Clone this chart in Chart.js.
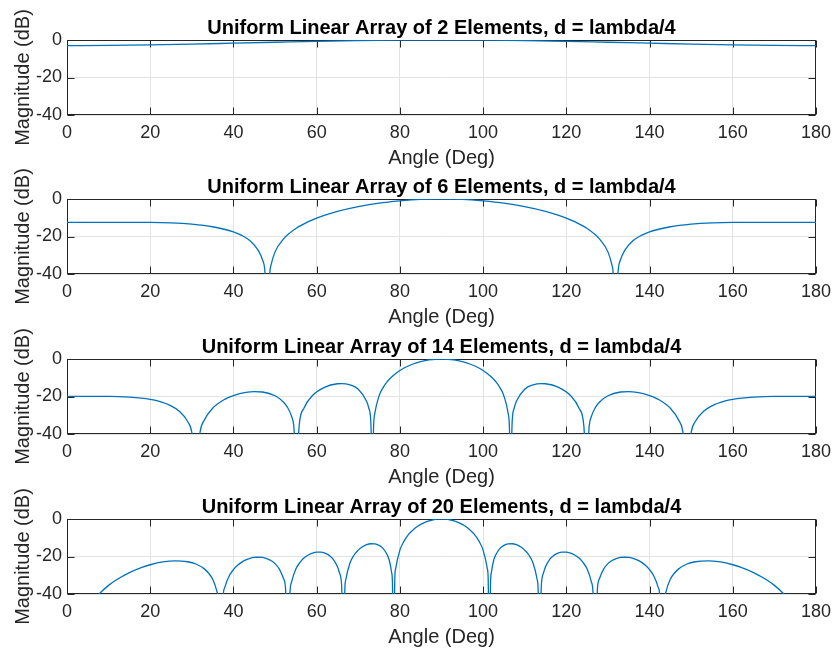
<!DOCTYPE html>
<html>
<head>
<meta charset="utf-8">
<title>Uniform Linear Array Patterns</title>
<script src="https://cdn.jsdelivr.net/npm/chart.js@4.4.1/dist/chart.umd.min.js"></script>
<style>
  html, body { margin: 0; padding: 0; background: #fff; }
  #figure { position: relative; width: 838px; height: 648px; overflow: hidden; background: #fff; }
  #figure canvas { position: absolute; left: 0; }
</style>
</head>
<body>
<div id="figure"></div>
<script>
// ── Axis ticks ───────────────────────────────────────────
const angleTicks = [0, 20, 40, 60, 80, 100, 120, 140, 160, 180];
const dbTicks = [-40, -20, 0];

// ── Array factor, N = 2 ──────────────────────────────────
const angle2 = [0, 10, 20, 30, 40, 50, 60, 70, 80, 90, 100, 110, 120, 130, 140, 150, 160, 170, 180];
const mag2 = [-3.0, -2.9, -2.6, -2.2, -1.7, -1.2, -0.7, -0.3, -0.1, 0, -0.1, -0.3, -0.7, -1.2, -1.7, -2.2, -2.6, -2.9, -3.0];

// ── Array factor, N = 6 ──────────────────────────────────
const angle6 = [0, 10, 20, 25, 30, 35, 40, 42, 44, 46, 47, 47.5, 48.2, 48.8, 49, 50, 52, 53.5, 55, 58,
  60, 62, 65, 70, 75, 80, 85, 90, 95, 100, 105, 110, 115, 118, 120, 122, 125, 126.5,
  128, 130, 131, 131.2, 131.8, 132.5, 133, 134, 136, 138, 140, 145, 150, 155, 160, 170, 180];
const mag6 = [-12.5, -12.5, -12.5, -12.7, -13.4, -14.8, -17.5, -19.4, -22.3, -27.5, -32.5, -37.2, -60, -38, -35.5, -28.2, -21.4, -18.2, -15.7, -12.1,
  -10.2, -8.6, -6.6, -4.1, -2.2, -1.0, -0.2, 0, -0.2, -1.0, -2.2, -4.1, -6.6, -8.6, -10.2, -12.1, -15.7, -18.2,
  -21.4, -28.2, -35.5, -38, -60, -37.2, -32.5, -27.5, -22.3, -19.4, -17.5, -14.8, -13.4, -12.7, -12.5, -12.5, -12.5];

// ── Array factor, N = 14 ─────────────────────────────────
const angle14 = [0, 5, 10, 15, 20, 22, 25, 27, 29, 30, 31, 32, 33, 35, 38, 40, 43, 45, 47, 50,
  52, 53, 54, 54.5, 55.15, 55.8, 57, 59, 62, 65, 66, 68, 70, 72, 72.5, 73, 73.4, 73.7, 74, 75,
  76, 77, 78, 79, 80, 81, 83, 85, 87, 90,
  93, 95, 97, 99, 100, 101, 102, 103, 104, 105, 106, 106.3, 106.6, 107, 107.5, 108, 110, 112, 114, 115,
  118, 121, 123, 124.2, 124.85, 125.5, 126, 127, 128, 130, 133, 135, 137, 140, 142, 145, 147, 148, 149, 150,
  151, 153, 155, 158, 160, 165, 170, 175, 180];
const mag14 = [-19.9, -19.9, -19.9, -20.3, -21.5, -22.5, -25.0, -27.9, -33.3, -39.2, -60, -38.7, -32.6, -26.3, -21.4, -19.5, -17.8, -17.4, -17.6, -19.6,
  -22.9, -25.8, -30.8, -35.6, -60, -35.4, -26.0, -19.5, -15.0, -13.2, -13.1, -13.8, -16.1, -22.5, -26.0, -32.8, -60, -34.9, -28.7, -19.7,
  -15.1, -12.0, -9.6, -7.7, -6.1, -4.8, -2.8, -1.4, -0.5, 0,
  -0.5, -1.4, -2.8, -4.8, -6.1, -7.7, -9.6, -12.0, -15.1, -19.7, -28.7, -34.9, -60, -32.8, -26.0, -22.5, -16.1, -13.8, -13.1, -13.2,
  -15.0, -19.5, -26.0, -35.4, -60, -35.6, -30.8, -25.8, -22.9, -19.6, -17.6, -17.4, -17.8, -19.5, -21.4, -26.3, -32.6, -38.7, -60, -39.2,
  -33.3, -27.9, -25.0, -22.5, -21.5, -20.3, -19.9, -19.9, -19.9];

// ── Array factor, N = 20 ─────────────────────────────────
const angle20 = [0, 5, 7, 8, 10, 12, 15, 18, 20, 23, 26, 29, 31, 33, 34, 35, 36, 36.5, 36.87, 37.5,
  38, 39, 40, 41, 42, 43, 44, 45, 46, 47, 48, 49, 50, 51, 52, 52.5, 53.13, 53.6, 54, 55,
  56, 57, 58, 59, 60, 61, 62, 63, 64, 65, 65.5, 66, 66.42, 66.8, 67, 68, 69, 70, 71, 72,
  73, 74, 75, 76, 77, 77.5, 78, 78.2, 78.46, 78.8, 79, 80, 81, 82, 83, 84, 85, 86, 87, 88, 89, 90,
  91, 92, 93, 94, 95, 96, 97, 98, 99, 100, 101, 101.2, 101.54, 101.8, 102, 102.5, 103, 104, 105, 106,
  107, 108, 109, 110, 111, 112, 113, 113.2, 113.58, 114, 114.5, 115, 116, 117, 118, 119, 120, 121, 122, 123,
  124, 125, 126, 126.4, 126.87, 127.5, 128, 129, 130, 131, 132, 133, 134, 135, 136, 137, 138, 139, 140, 141,
  142, 142.5, 143.13, 143.5, 144, 145, 146, 147, 149, 151, 154, 157, 160, 162, 165, 168, 170, 172, 173, 175, 180];
const mag20 = [-70, -47.4, -41.6, -39.3, -35.4, -32.3, -28.6, -25.8, -24.4, -22.9, -22.3, -22.8, -24.0, -26.6, -28.8, -32.1, -38.5, -45.6, -70, -41.1,
  -35.9, -30.3, -27.0, -24.7, -23.0, -21.8, -21.0, -20.5, -20.4, -20.5, -21.1, -22.1, -23.8, -26.6, -31.6, -36.5, -70, -38.8, -33.4, -26.7,
  -23.1, -20.7, -19.2, -18.2, -17.7, -17.7, -18.2, -19.4, -21.5, -25.5, -28.9, -35.5, -70, -36.0, -32.4, -23.5, -19.2, -16.6, -14.8, -13.7,
  -13.2, -13.3, -14.1, -15.8, -19.3, -22.4, -28.4, -33.2, -70, -30.5, -26.3, -16.6, -11.8, -8.5, -6.2, -4.3, -2.9, -1.8, -1.0, -0.4, -0.1, 0,
  -0.1, -0.4, -1.0, -1.8, -2.9, -4.3, -6.2, -8.5, -11.8, -16.6, -26.3, -30.5, -70, -33.2, -28.4, -22.4, -19.3, -15.8, -14.1, -13.3,
  -13.2, -13.7, -14.8, -16.6, -19.2, -23.5, -32.4, -36.0, -70, -35.5, -28.9, -25.5, -21.5, -19.4, -18.2, -17.7, -17.7, -18.2, -19.2, -20.7,
  -23.1, -26.7, -33.4, -38.8, -70, -36.5, -31.6, -26.6, -23.8, -22.1, -21.1, -20.5, -20.4, -20.5, -21.0, -21.8, -23.0, -24.7, -27.0, -30.3,
  -35.9, -41.1, -70, -45.6, -38.5, -32.1, -28.8, -26.6, -24.0, -22.8, -22.3, -22.9, -24.4, -25.8, -28.6, -32.3, -35.4, -39.3, -41.6, -47.4, -70];

const elementCounts = [2, 6, 14, 20];
const panelAngles = [angle2, angle6, angle14, angle20];
const panelMags = [mag2, mag6, mag14, mag20];

// ── Figure layout (px) ───────────────────────────────────
const FIG_W = 838;
const PLOT_TOPS = [40, 199, 359, 519];
const PLOT_H = 75;
const TITLE_H = 40;      // 24px line + 16px top padding
const XAXIS_H = 55;
const YAXIS_W = 67;
const RIGHT_PAD = 18;
const TICK_LEN = 7;

const FONT = '"Liberation Sans", Arial, Helvetica, sans-serif';
const LINE_BLUE = '#0072BD';
const AXIS_GREY = '#262626';

Chart.defaults.font.family = FONT;
Chart.defaults.color = AXIS_GREY;

// Box round the axes with inward tick marks on all four sides
const axesBox = {
  id: 'axesBox',
  beforeDatasetsDraw(chart) {
    const { ctx, chartArea: a, scales: { x, y } } = chart;
    const L = Math.round(a.left) + 0.5;
    const R = Math.round(a.right) - 0.5;
    const T = Math.round(a.top) + 0.5;
    const B = Math.round(a.bottom) - 0.5;
    ctx.save();
    ctx.strokeStyle = AXIS_GREY;
    ctx.lineWidth = 1;
    ctx.strokeRect(L, T, R - L, B - T);
    ctx.beginPath();
    x.ticks.forEach(t => {
      const px = Math.round(x.getPixelForValue(t.value)) + 0.5;
      ctx.moveTo(px, B); ctx.lineTo(px, B - TICK_LEN);
      ctx.moveTo(px, T); ctx.lineTo(px, T + TICK_LEN);
    });
    y.ticks.forEach(t => {
      const py = Math.round(y.getPixelForValue(t.value)) + 0.5;
      ctx.moveTo(L, py); ctx.lineTo(L + TICK_LEN, py);
      ctx.moveTo(R, py); ctx.lineTo(R - TICK_LEN, py);
    });
    ctx.stroke();
    ctx.restore();
  }
};

function buildPanel(i) {
  const fig = document.getElementById('figure');
  const canvas = document.createElement('canvas');
  const h = TITLE_H + PLOT_H + XAXIS_H;
  canvas.width = FIG_W;
  canvas.height = h;
  canvas.style.width = FIG_W + 'px';
  canvas.style.height = h + 'px';
  canvas.style.top = (PLOT_TOPS[i] - TITLE_H) + 'px';
  fig.appendChild(canvas);

  const points = panelAngles[i].map((a, k) => ({ x: a, y: panelMags[i][k] }));

  return new Chart(canvas.getContext('2d'), {
    type: 'scatter',
    data: {
      datasets: [{
        data: points,
        showLine: true,
        borderColor: LINE_BLUE,
        borderWidth: 1.3,
        pointRadius: 0,
        cubicInterpolationMode: 'monotone'
      }]
    },
    options: {
      responsive: false,
      animation: false,
      events: [],
      layout: { padding: { left: 0, right: RIGHT_PAD, top: 0, bottom: 0 } },
      plugins: {
        legend: { display: false },
        tooltip: { enabled: false },
        title: {
          display: true,
          fullSize: false,
          text: 'Uniform Linear Array of ' + elementCounts[i] + ' Elements, d = lambda/4',
          color: '#000',
          font: { size: 20, weight: 'bold', family: FONT },
          padding: { top: 16, bottom: 0 }
        }
      },
      scales: {
        x: {
          type: 'linear',
          min: 0,
          max: 180,
          afterBuildTicks: s => { s.ticks = angleTicks.map(v => ({ value: v })); },
          afterFit: s => { s.height = XAXIS_H; },
          grid: { color: '#e3e3e3', drawTicks: false },
          border: { display: false },
          ticks: { autoSkip: false, maxRotation: 0, padding: 7, font: { size: 18 } },
          title: { display: true, text: 'Angle (Deg)', font: { size: 20 }, padding: { top: 0, bottom: 0 } }
        },
        y: {
          type: 'linear',
          min: -40,
          max: 0,
          afterBuildTicks: s => { s.ticks = dbTicks.map(v => ({ value: v })); },
          afterFit: s => { s.width = YAXIS_W; },
          grid: { color: '#e3e3e3', drawTicks: false },
          border: { display: false },
          ticks: { padding: 5, font: { size: 18 } },
          title: { display: true, text: 'Magnitude (dB)', font: { size: 20 }, padding: { top: 11, bottom: 0 } }
        }
      }
    },
    plugins: [axesBox]
  });
}

elementCounts.forEach((n, i) => buildPanel(i));
</script>
</body>
</html>
